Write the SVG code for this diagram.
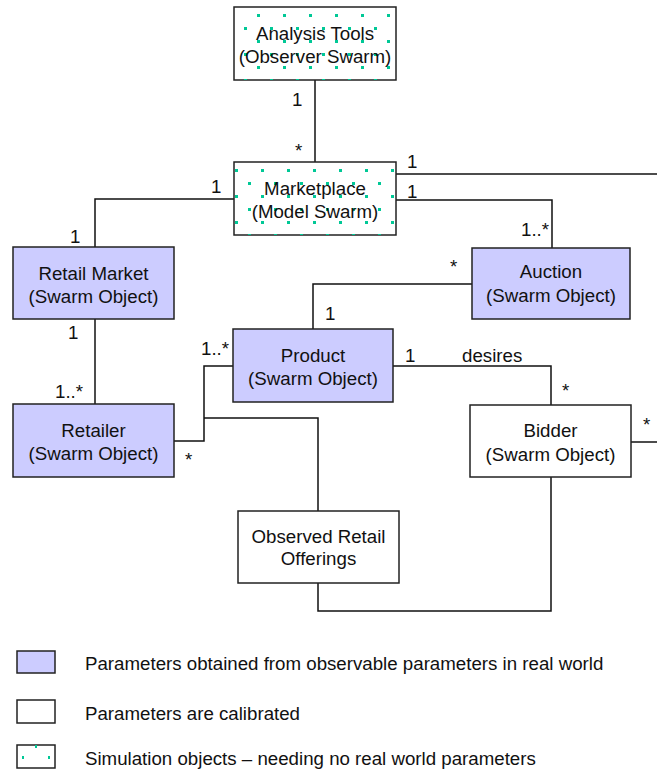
<svg xmlns="http://www.w3.org/2000/svg" width="657" height="770" viewBox="0 0 657 770">
  <style>
    .box { stroke: #222; stroke-width: 1.5; }
    .real { fill: #ccccff; }
    .cal { fill: #ffffff; }
    .wire { fill: none; stroke: #111; stroke-width: 1.5; }
    text { font-family: "Liberation Sans", Arial, sans-serif; font-size: 18.7px; fill: #111; }
    .c { text-anchor: middle; }
  </style>
  <defs>
    <!-- staggered teal dot grid used for simulation objects -->
    <pattern id="dotsA" patternUnits="userSpaceOnUse" x="23" y="14" width="26" height="26">
      <rect x="0" y="0" width="3" height="3" fill="#00c896"/>
      <rect x="13" y="13" width="3" height="3" fill="#00c896"/>
    </pattern>
    <pattern id="dotsB" patternUnits="userSpaceOnUse" x="1" y="13" width="26" height="26">
      <rect x="0" y="0" width="3" height="3" fill="#00c896"/>
      <rect x="13" y="13" width="3" height="3" fill="#00c896"/>
    </pattern>
    <pattern id="dotsL" patternUnits="userSpaceOnUse" x="9" y="17" width="26" height="26">
      <rect x="0" y="0" width="2" height="3" fill="#00c896"/>
      <rect x="13" y="11" width="2" height="3" fill="#00c896"/>
    </pattern>
  </defs>

  <g id="connectors">
    <!-- Analysis Tools to Marketplace -->
    <path class="wire" d="M315 80 V162"/>
    <!-- Marketplace to the right edge -->
    <path class="wire" d="M396 174 H657"/>
    <!-- Marketplace to Auction -->
    <path class="wire" d="M396 200 H552 V248"/>
    <!-- Marketplace to Retail Market -->
    <path class="wire" d="M234 199 H95 V247"/>
    <!-- Retail Market to Retailer -->
    <path class="wire" d="M95 319 V404"/>
    <!-- Retailer to Product -->
    <path class="wire" d="M174 441 H204 V366 H233"/>
    <!-- Retailer to Observed Retail Offerings -->
    <path class="wire" d="M204 418 H318 V511"/>
    <!-- Auction to Product -->
    <path class="wire" d="M472 284 H313 V329"/>
    <!-- Product to Bidder -->
    <path class="wire" d="M393 366 H551 V405"/>
    <!-- Bidder to the right edge -->
    <path class="wire" d="M631 442 H657"/>
    <!-- Bidder to Observed Retail Offerings -->
    <path class="wire" d="M551 477 V611 H318 V583"/>
  </g>

  <g id="analysis-tools">
    <rect class="box cal" x="234" y="7" width="162" height="73"/>
    <rect x="234" y="7" width="162" height="73" fill="url(#dotsA)"/>
    <text class="c" x="315" y="40">Analysis Tools</text>
    <text class="c" x="315" y="63">(Observer Swarm)</text>
  </g>

  <g id="marketplace">
    <rect class="box cal" x="234" y="162" width="162" height="73"/>
    <rect x="234" y="162" width="162" height="73" fill="url(#dotsB)"/>
    <text class="c" x="315" y="195">Marketplace</text>
    <text class="c" x="315" y="218">(Model Swarm)</text>
  </g>

  <g id="retail-market">
    <rect class="box real" x="13" y="247" width="161" height="72"/>
    <text class="c" x="93.5" y="280">Retail Market</text>
    <text class="c" x="93.5" y="303">(Swarm Object)</text>
  </g>

  <g id="auction">
    <rect class="box real" x="472" y="248" width="158" height="71"/>
    <text class="c" x="551" y="278">Auction</text>
    <text class="c" x="551" y="302">(Swarm Object)</text>
  </g>

  <g id="product">
    <rect class="box real" x="233" y="329" width="160" height="73"/>
    <text class="c" x="313" y="362">Product</text>
    <text class="c" x="313" y="385">(Swarm Object)</text>
  </g>

  <g id="retailer">
    <rect class="box real" x="13" y="404" width="161" height="73"/>
    <text class="c" x="93.5" y="437">Retailer</text>
    <text class="c" x="93.5" y="460">(Swarm Object)</text>
  </g>

  <g id="bidder">
    <rect class="box cal" x="470" y="405" width="161" height="72"/>
    <text class="c" x="550.5" y="437">Bidder</text>
    <text class="c" x="550.5" y="461">(Swarm Object)</text>
  </g>

  <g id="observed-retail-offerings">
    <rect class="box cal" x="238" y="511" width="161" height="72"/>
    <text class="c" x="318.5" y="543">Observed Retail</text>
    <text class="c" x="318.5" y="565">Offerings</text>
  </g>

  <g id="multiplicities">
    <text x="292" y="106">1</text>
    <text x="295" y="157">*</text>
    <text x="407" y="168">1</text>
    <text x="407" y="198">1</text>
    <text x="211" y="193">1</text>
    <text x="70" y="243">1</text>
    <text x="521" y="236">1..*</text>
    <text x="450" y="273">*</text>
    <text x="325" y="320">1</text>
    <text x="68" y="339">1</text>
    <text x="55" y="398">1..*</text>
    <text x="201" y="355">1..*</text>
    <text x="405" y="362">1</text>
    <text x="462" y="362">desires</text>
    <text x="562" y="397">*</text>
    <text x="185" y="466">*</text>
    <text x="643" y="431">*</text>
  </g>

  <g id="legend">
    <rect class="box real" x="17" y="651" width="38" height="22"/>
    <text x="85" y="670">Parameters obtained from observable parameters in real world</text>
    <rect class="box cal" x="17" y="700" width="38" height="23"/>
    <text x="85" y="720">Parameters are calibrated</text>
    <rect class="box cal" x="17" y="745" width="38" height="23"/>
    <rect x="17" y="745" width="38" height="23" fill="url(#dotsL)"/>
    <text x="85" y="765">Simulation objects – needing no real world parameters</text>
  </g>
</svg>
